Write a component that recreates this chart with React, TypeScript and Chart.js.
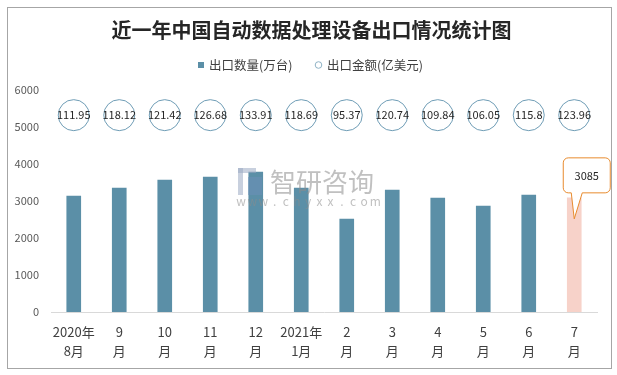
import React, { useEffect, useRef } from "react";
import { Chart, registerables } from "chart.js";

Chart.register(...registerables);

const titleText = "近一年中国自动数据处理设备出口情况统计图";
const quantityLegend = "出口数量(万台)";
const amountLegend = "出口金额(亿美元)";
const categories: string[][] = [
  ["2020年", "8月"], ["9", "月"], ["10", "月"], ["11", "月"], ["12", "月"], ["2021年", "1月"],
  ["2", "月"], ["3", "月"], ["4", "月"], ["5", "月"], ["6", "月"], ["7", "月"],
];
const quantities = [3135, 3351, 3568, 3649, 3784, 3351, 2514, 3297, 3081, 2865, 3162, 3085];
const amounts = ["111.95", "118.12", "121.42", "126.68", "133.91", "118.69", "95.37", "120.74", "109.84", "106.05", "115.8", "123.96"];
const amountRowLevel = 5320;
const yTicks = [0, 1000, 2000, 3000, 4000, 5000, 6000];

const BAR = "#5b8fa7";
const BAR_LAST = "#f7d2c9";
const CIRCLE = "#6f9db6";
const FONT = '"Noto Sans CJK SC", "Microsoft YaHei", sans-serif';

const decor = {
  id: "decor",
  beforeDraw(chart: any) {
    const ctx = chart.ctx;
    ctx.save();
    ctx.fillStyle = "#ffffff";
    ctx.fillRect(0, 0, chart.width, chart.height);
    ctx.restore();
  },
  afterDatasetsDraw(chart: any) {
    const ctx = chart.ctx;
    // amount labels inside circles
    const pts = chart.getDatasetMeta(1).data;
    ctx.save();
    ctx.font = `11px ${FONT}`;
    ctx.fillStyle = "#262626";
    ctx.textAlign = "center";
    ctx.textBaseline = "middle";
    pts.forEach((p: any, i: number) => ctx.fillText(amounts[i], p.x, p.y));
    ctx.restore();

    // watermark
    ctx.save();
    ctx.globalAlpha = 0.55;
    ctx.fillStyle = "#9aa9c2";
    ctx.fillRect(238, 168, 18, 5);
    ctx.fillRect(238, 168, 5, 27);
    ctx.fillStyle = "#6c8fb8";
    ctx.fillRect(248, 177, 14, 18);
    ctx.fillStyle = "#8d8d8d";
    ctx.font = `26px ${FONT}`;
    ctx.textAlign = "left";
    ctx.textBaseline = "middle";
    ctx.fillText("智研咨询", 270, 182);
    ctx.font = `12px ${FONT}`;
    ctx.textAlign = "center";
    const wm = "www.chyxx.com";
    for (let i = 0; i < wm.length; i++) ctx.fillText(wm[i], 241 + i * 11.2, 201);
    ctx.restore();

    // callout on last bar
    const bars = chart.getDatasetMeta(0).data;
    const last = bars[bars.length - 1];
    const tipX = last.x;
    const tipY = last.y + 21;
    const cx = last.x + 12.5;
    const w = 47, h = 35;
    const left = cx - w / 2, top = last.y - 40;
    const r = 5;
    ctx.save();
    ctx.beginPath();
    ctx.moveTo(left + r, top);
    ctx.lineTo(left + w - r, top);
    ctx.arcTo(left + w, top, left + w, top + r, r);
    ctx.lineTo(left + w, top + h - r);
    ctx.arcTo(left + w, top + h, left + w - r, top + h, r);
    ctx.lineTo(tipX + 8, top + h);
    ctx.lineTo(tipX, tipY);
    ctx.lineTo(tipX - 3, top + h);
    ctx.lineTo(left + r, top + h);
    ctx.arcTo(left, top + h, left, top + h - r, r);
    ctx.lineTo(left, top + r);
    ctx.arcTo(left, top, left + r, top, r);
    ctx.closePath();
    ctx.fillStyle = "#ffffff";
    ctx.fill();
    ctx.strokeStyle = "#e88b2e";
    ctx.lineWidth = 1;
    ctx.stroke();
    ctx.font = `11px ${FONT}`;
    ctx.fillStyle = "#262626";
    ctx.textAlign = "center";
    ctx.textBaseline = "middle";
    ctx.fillText(String(quantities[quantities.length - 1]), cx, top + h / 2);
    ctx.restore();
  },
  afterDraw(chart: any) {
    const ctx = chart.ctx;
    ctx.save();
    // title
    ctx.font = `bold 20px ${FONT}`;
    ctx.fillStyle = "#262626";
    ctx.textAlign = "center";
    ctx.textBaseline = "middle";
    ctx.fillText(titleText, 311.5, 30);
    // legend
    ctx.font = `12.5px ${FONT}`;
    ctx.textAlign = "left";
    ctx.fillStyle = BAR;
    ctx.fillRect(198, 62, 6, 6);
    ctx.fillStyle = "#404040";
    ctx.fillText(quantityLegend, 209, 65);
    ctx.beginPath();
    ctx.arc(318.5, 65, 3.3, 0, Math.PI * 2);
    ctx.strokeStyle = "#8fb3c6";
    ctx.lineWidth = 1;
    ctx.stroke();
    ctx.fillText(amountLegend, 327, 65);
    // outer border
    ctx.strokeStyle = "#a6a6a6";
    ctx.lineWidth = 1;
    ctx.strokeRect(7.5, 7.5, 604, 361);
    ctx.restore();
  },
};

export default function App() {
  const ref = useRef<HTMLCanvasElement | null>(null);
  useEffect(() => {
    if (!ref.current) return;
    const chart = new Chart(ref.current, {
      type: "bar",
      data: {
        labels: categories as any,
        datasets: [
          {
            type: "bar",
            label: quantityLegend,
            data: quantities,
            backgroundColor: quantities.map((_, i) => (i === quantities.length - 1 ? BAR_LAST : BAR)),
            barThickness: 14,
            order: 2,
          },
          {
            type: "line",
            label: amountLegend,
            data: amounts.map(() => amountRowLevel),
            showLine: false,
            pointRadius: 15.5,
            pointHoverRadius: 15.5,
            pointBackgroundColor: "rgba(255,255,255,0)",
            pointBorderColor: CIRCLE,
            pointBorderWidth: 1,
            order: 1,
          } as any,
        ],
      },
      options: {
        responsive: true,
        maintainAspectRatio: false,
        animation: false,
        layout: { padding: { top: 90, right: 20, bottom: 0, left: 0 } },
        plugins: { legend: { display: false }, title: { display: false }, tooltip: { enabled: false } },
        scales: {
          x: {
            offset: true,
            grid: { display: false },
            border: { display: true, color: "#d9d9d9", width: 1 },
            ticks: {
              font: { family: FONT, size: 13, lineHeight: 1.5 },
              color: "#404040",
              padding: 2,
              maxRotation: 0,
              autoSkip: false,
            },
            afterFit: (s: any) => { s.height = 63; },
          },
          y: {
            min: 0,
            max: 6000,
            afterBuildTicks: (s: any) => { s.ticks = yTicks.map((v) => ({ value: v })); },
            grid: { display: false, drawTicks: false },
            border: { display: false },
            ticks: {
              font: { family: FONT, size: 11 },
              color: "#595959",
              padding: 12,
              callback: (v: any) => String(v),
            },
            afterFit: (s: any) => { s.width = 51; },
          },
        },
      },
      plugins: [decor],
    });
    return () => chart.destroy();
  }, []);
  return (
    <div style={{ position: "fixed", left: 0, top: 0, width: 617, height: 375, background: "#fff" }}>
      <canvas ref={ref} />
    </div>
  );
}
